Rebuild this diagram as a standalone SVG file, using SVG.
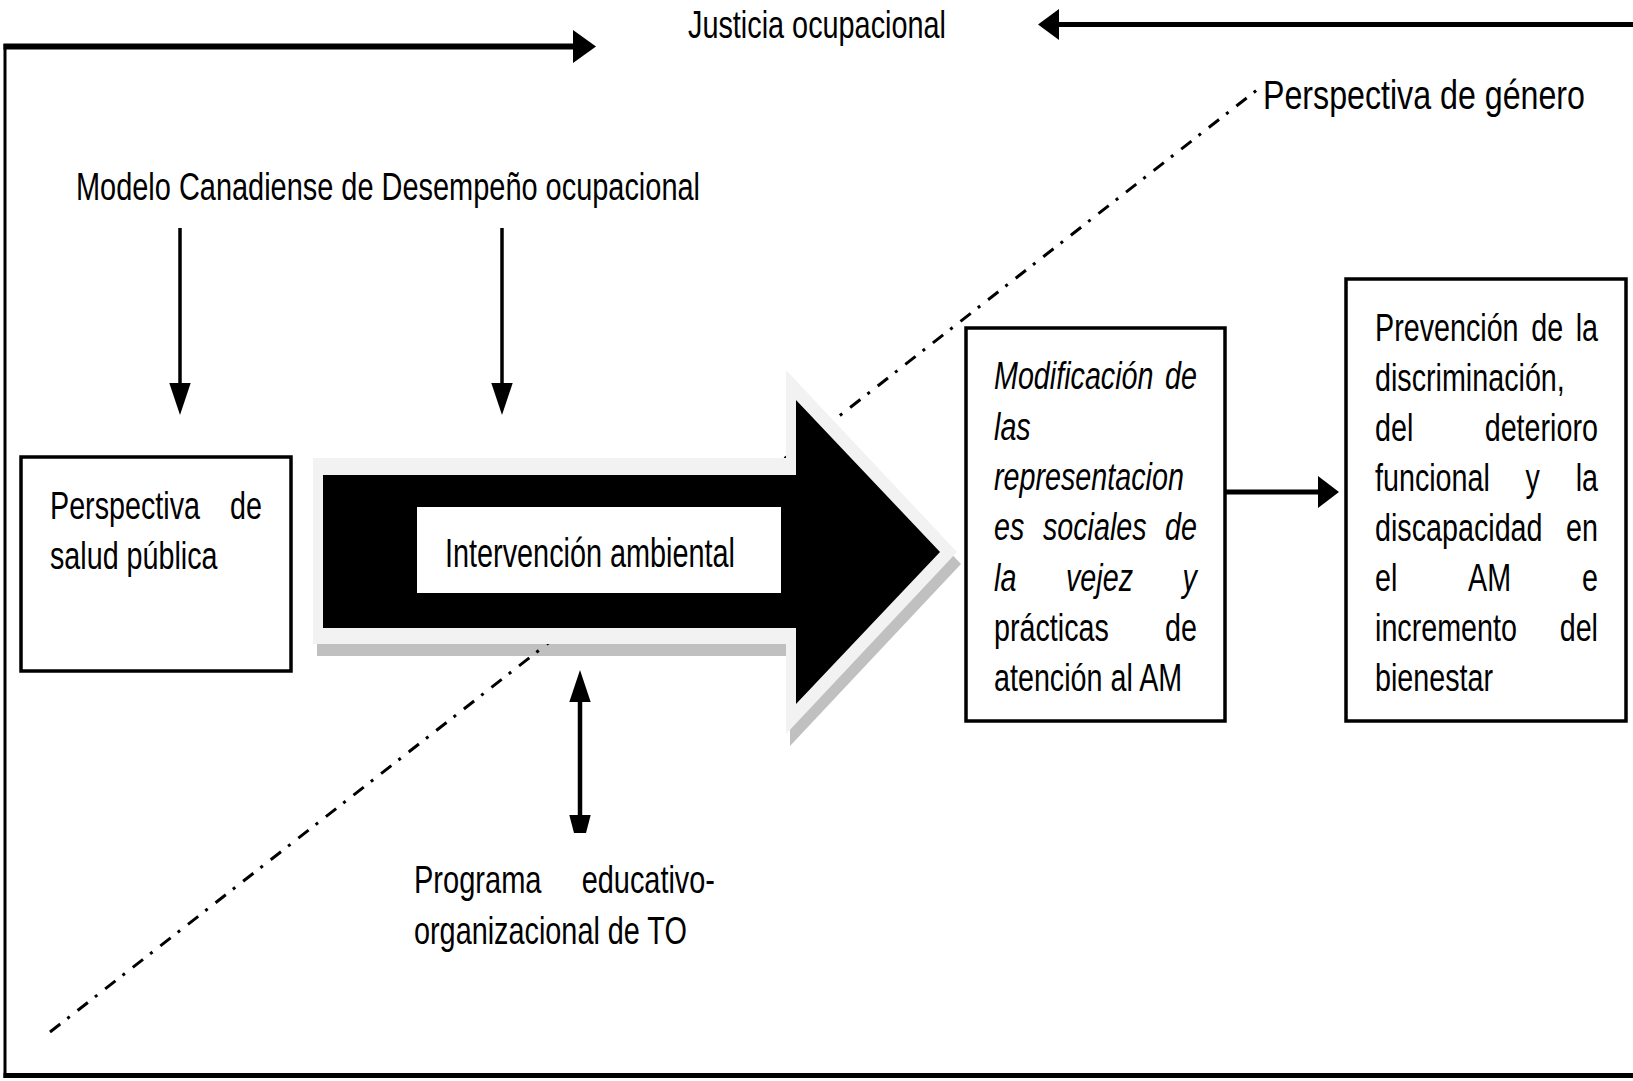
<svg xmlns="http://www.w3.org/2000/svg" width="1633" height="1081" viewBox="0 0 1633 1081">
<style>
  .t { font-family: "Liberation Sans", Arial, sans-serif; font-size: 39px; fill: #000; }
  .i { font-style: italic; }
  .box { fill: #fff; stroke: #000; stroke-width: 3.5; }
  .ln { stroke: #000; fill: none; }
  .hd { fill: #000; stroke: none; }
  .dd { stroke: #000; stroke-width: 3; fill: none; stroke-dasharray: 13 9 3 10; }
</style>
<rect width="1633" height="1081" fill="#fff"/>

<g id="frame">
  <line class="ln" x1="5" y1="44" x2="5" y2="1078" stroke-width="3"/>
  <line class="ln" x1="3.5" y1="1075.5" x2="1633" y2="1075.5" stroke-width="5"/>
</g>

<g id="arrow-shadow">
  <polygon points="317,470 790,470 790,382 961,564 790,746 790,656 317,656" fill="#c0c0c0"/>
</g>

<g id="connectors">
  <line class="dd" x1="50" y1="1032" x2="1262" y2="86"/>
  <line class="ln" x1="3.5" y1="46.5" x2="575" y2="46.5" stroke-width="6"/>
  <polygon class="hd" points="573,30 596,46.5 573,63"/>
  <line class="ln" x1="1057" y1="24.5" x2="1633" y2="24.5" stroke-width="5"/>
  <polygon class="hd" points="1059,9 1038,24.5 1059,40"/>
  <line class="ln" x1="180" y1="228" x2="180" y2="388" stroke-width="3.5"/>
  <polygon class="hd" points="169.3,383 190.7,383 180,415"/>
  <line class="ln" x1="502" y1="228" x2="502" y2="388" stroke-width="3.5"/>
  <polygon class="hd" points="491.3,383 512.7,383 502,415"/>
  <line class="ln" x1="580" y1="698" x2="580" y2="818" stroke-width="4.5"/>
  <polygon class="hd" points="569.3,702 590.7,702 580,670"/>
  <polygon class="hd" points="569.3,815 590.7,815 586,833 574,833"/>
  <line class="ln" x1="1225" y1="492" x2="1320" y2="492" stroke-width="5"/>
  <polygon class="hd" points="1318,476 1339,492 1318,508"/>
</g>

<g id="intervencion">
  <polygon points="313,458 786,458 786,370 957,552 786,734 786,644 313,644" fill="#f2f2f2"/>
  <polygon points="323,475 796,475 796,400 940,552 796,704 796,628 323,628" fill="#000"/>
  <rect x="417" y="507" width="364" height="86" fill="#fff"/>
  <text class="t" transform="translate(445,567) scale(0.7207,1)" style="font-size:40px">Intervención ambiental</text>
</g>

<g id="justicia">
  <text class="t" transform="translate(688,38) scale(0.7393,1)">Justicia ocupacional</text>
</g>

<g id="genero">
  <text class="t" transform="translate(1263,109) scale(0.785,1)" style="font-size:41px">Perspectiva de género</text>
</g>

<g id="modelo">
  <text class="t" transform="translate(76,200) scale(0.742,1)">Modelo Canadiense de Desempeño ocupacional</text>
</g>

<g id="salud">
  <rect class="box" x="21" y="457" width="270" height="214"/>
  <text class="t" transform="translate(50,519) scale(0.736,1)">Perspectiva</text>
  <text class="t" transform="translate(230,519) scale(0.736,1)">de</text>
  <text class="t" transform="translate(50,569) scale(0.736,1)">salud pública</text>
</g>

<g id="programa">
  <text class="t" transform="translate(414,893) scale(0.745,1)">Programa</text>
  <text class="t" transform="translate(581.7,893) scale(0.741,1)">educativo-</text>
  <text class="t" transform="translate(414,944) scale(0.739,1)">organizacional de TO</text>
</g>

<g id="modificacion">
  <rect class="box" x="966" y="328" width="259" height="393"/>
  <text class="t i" transform="translate(994,389.3) scale(0.736,1)">Modificación</text>
  <text class="t i" transform="translate(1165.1,389.3) scale(0.736,1)">de</text>
  <text class="t i" transform="translate(994,439.6) scale(0.736,1)">las</text>
  <text class="t i" transform="translate(994,489.9) scale(0.736,1)">representacion</text>
  <text class="t i" transform="translate(994,540.2) scale(0.736,1)">es</text>
  <text class="t i" transform="translate(1042.9,540.2) scale(0.736,1)">sociales</text>
  <text class="t i" transform="translate(1165.1,540.2) scale(0.736,1)">de</text>
  <text class="t i" transform="translate(994,590.5) scale(0.736,1)">la</text>
  <text class="t i" transform="translate(1066,590.5) scale(0.736,1)">vejez</text>
  <text class="t i" transform="translate(1182.6,590.5) scale(0.736,1)">y</text>
  <text class="t" transform="translate(994,640.8) scale(0.736,1)">prácticas</text>
  <text class="t" transform="translate(1165.1,640.8) scale(0.736,1)">de</text>
  <text class="t" transform="translate(994,691.1) scale(0.736,1)">atención al AM</text>
</g>

<g id="prevencion">
  <rect class="box" x="1346" y="279" width="280" height="442"/>
  <text class="t" transform="translate(1375,340.7) scale(0.736,1)">Prevención</text>
  <text class="t" transform="translate(1531.2,340.7) scale(0.736,1)">de</text>
  <text class="t" transform="translate(1575.7,340.7) scale(0.736,1)">la</text>
  <text class="t" transform="translate(1375,390.8) scale(0.736,1)">discriminación,</text>
  <text class="t" transform="translate(1375,440.9) scale(0.736,1)">del</text>
  <text class="t" transform="translate(1484.7,440.9) scale(0.736,1)">deterioro</text>
  <text class="t" transform="translate(1375,491) scale(0.736,1)">funcional</text>
  <text class="t" transform="translate(1525.6,491) scale(0.736,1)">y</text>
  <text class="t" transform="translate(1575.7,491) scale(0.736,1)">la</text>
  <text class="t" transform="translate(1375,541.1) scale(0.736,1)">discapacidad</text>
  <text class="t" transform="translate(1566.1,541.1) scale(0.736,1)">en</text>
  <text class="t" transform="translate(1375,591.2) scale(0.736,1)">el</text>
  <text class="t" transform="translate(1468.1,591.2) scale(0.736,1)">AM</text>
  <text class="t" transform="translate(1582,591.2) scale(0.736,1)">e</text>
  <text class="t" transform="translate(1375,641.3) scale(0.736,1)">incremento</text>
  <text class="t" transform="translate(1559.7,641.3) scale(0.736,1)">del</text>
  <text class="t" transform="translate(1375,691.4) scale(0.736,1)">bienestar</text>
</g>
</svg>
